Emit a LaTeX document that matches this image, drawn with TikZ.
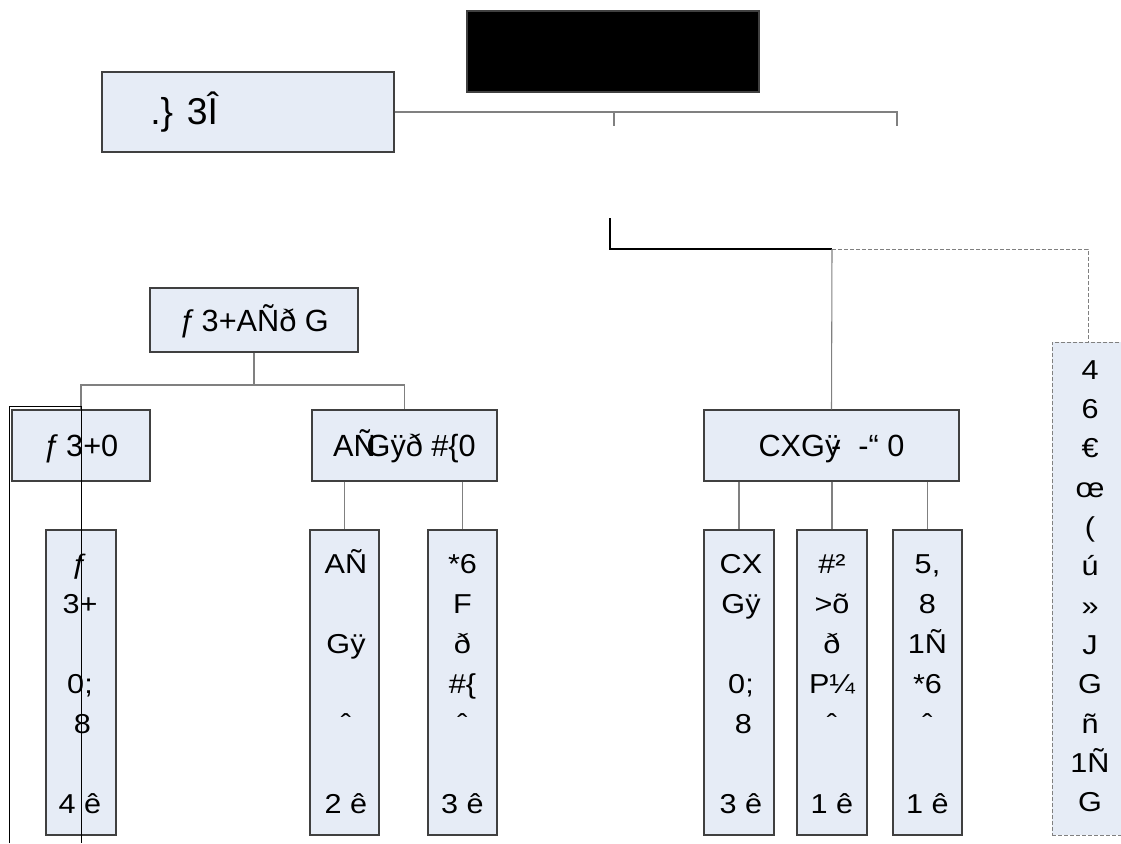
\documentclass[tikz,border=0pt]{standalone}
\usepackage{fontspec}
\setmainfont{Liberation Sans}
\newfontfamily\widefont{Liberation Sans}[FakeStretch=1.12]
\newcommand\colln[1]{\strut\smash{#1}}
\definecolor{boxfill}{RGB}{230,236,246}
\definecolor{boxline}{RGB}{64,64,64}
\definecolor{connline}{RGB}{128,128,128}
\begin{document}
\begin{tikzpicture}[x=0.75pt,y=-0.75pt,
  sz/.style 2 args={minimum width=#1*0.75pt, minimum height=#2*0.75pt},
  orgbox/.style={draw=boxline, fill=boxfill, line width=0.8pt, inner sep=0pt,
    font=\fontsize{23}{28}\selectfont, text height=16.5pt, text depth=0pt},
  colbox/.style={draw=boxline, fill=boxfill, line width=0.8pt, inner sep=0pt},
  coltext/.style={anchor=north, inner sep=0pt, align=center,
    font=\widefont\fontsize{20.5}{30}\selectfont},
  sidetext/.style={anchor=north, inner sep=0pt, align=center,
    font=\widefont\fontsize{20.5}{29.5}\selectfont},
  conn/.style={draw=connline, line width=0.8pt},
  bracket/.style={draw=black, line width=0.8pt},
  dashconn/.style={draw=connline, line width=0.7pt, dash pattern=on 3pt off 1.5pt}
]
\useasboundingbox (0,0) rectangle (1121,843);
\clip (0,0) rectangle (1121,843);

% top and assistant
\node[colbox, fill=black, sz={292}{81}] (top) at (613,51.5) {};
\node[orgbox, sz={292}{80}] (asst) at (248,112) {};
\node[anchor=base west, inner sep=0pt, font=\fontsize{28}{32}\selectfont] (asstlbl) at (150,124) {.\} 3Î};

% second level boxes
\node[orgbox, sz={208}{64}] (lab) at (254,320) {ƒ\kern-.1em\ 3+AÑð G};
\node[orgbox, sz={138}{71}] (labA) at (81,445.5) {ƒ\kern-.1em\ 3+0\hspace{4pt}};
\node[orgbox, sz={185}{71}] (labB) at (404.5,445.5) {AÑ\kern-.3em Gÿð \#\{0\hspace{9pt}};
\node[orgbox, sz={255}{71}] (prod) at (831.5,445.5) {CXGÿ\kern-.3em-\ \ -“ 0\hspace{10pt}};

% columns
\node[colbox, sz={70}{305}] (c1) at (81,682.5) {};
\node[colbox, sz={69}{305}] (c2) at (344.5,682.5) {};
\node[colbox, sz={69}{305}] (c3) at (462.5,682.5) {};
\node[colbox, sz={70}{305}] (c4) at (739,682.5) {};
\node[colbox, sz={70}{305}] (c5) at (832,682.5) {};
\node[colbox, sz={69}{305}] (c6) at (927.5,682.5) {};
\node[colbox, draw=connline, line width=0.7pt, dash pattern=on 3pt off 1.5pt, sz={72}{493}] (side) at (1088,588.5) {};

\node[coltext] (t1) at (80,545) {\colln{ƒ}\\\colln{3+}\\\colln{}\\\colln{0;}\\\colln{\,8}\\\colln{}\\\colln{4 ê}};
\node[coltext] (t2) at (346,545) {\colln{AÑ}\\\colln{}\\\colln{Gÿ}\\\colln{}\\\colln{ˆ}\\\colln{}\\\colln{2 ê}};
\node[coltext] (t3) at (462.5,545) {\colln{*6}\\\colln{F}\\\colln{ð}\\\colln{\#\{}\\\colln{ˆ}\\\colln{}\\\colln{3 ê}};
\node[coltext] (t4) at (741,545) {\colln{CX}\\\colln{Gÿ}\\\colln{}\\\colln{0;}\\\colln{\,8}\\\colln{}\\\colln{3 ê}};
\node[coltext] (t5) at (832,545) {\colln{\#²}\\\colln{>õ}\\\colln{ð}\\\colln{P¼}\\\colln{ˆ}\\\colln{}\\\colln{1 ê}};
\node[coltext] (t6) at (927.5,545) {\colln{5,}\\\colln{8}\\\colln{1Ñ}\\\colln{*6}\\\colln{ˆ}\\\colln{}\\\colln{1 ê}};
\node[sidetext] (t7) at (1090,351.5) {\colln{4}\\\colln{6}\\\colln{€}\\\colln{œ}\\\colln{(}\\\colln{ú}\\\colln{»}\\\colln{J}\\\colln{G}\\\colln{ñ}\\\colln{1Ñ}\\\colln{G}};

% connectors
\coordinate (tickA) at (614,126);
\coordinate (tickB) at (897,126);
\draw[conn] (asst.east) -- (897,112) -- (tickB);
\draw[conn] (614,112) -- (tickA);
\coordinate (brTop) at (610,218);
\draw[bracket] (brTop) -- (610,249) -- (832,249);
\draw[conn] (832,249) -- (prod.north);
\draw[dashconn] (832,249) -- (1088,249) -- (side.north);

\draw[conn] (lab.south) -- (254,385);
\draw[conn] (labA.north) -- (81,385) -- (404.5,385) -- (labB.north);
\draw[conn] (c2.north |- labB.south) -- (c2.north);
\draw[conn] (c3.north |- labB.south) -- (c3.north);
\draw[conn] (c4.north |- prod.south) -- (c4.north);
\draw[conn] (c5.north |- prod.south) -- (c5.north);
\draw[conn] (c6.north |- prod.south) -- (c6.north);

% stray bracket lines on the left
\coordinate (oddA) at (9,843);
\coordinate (oddB) at (81,843);
\draw[bracket, line width=0.7pt] (oddA) -- (9,406) -- (81,406) -- (oddB);
\end{tikzpicture}
\end{document}
